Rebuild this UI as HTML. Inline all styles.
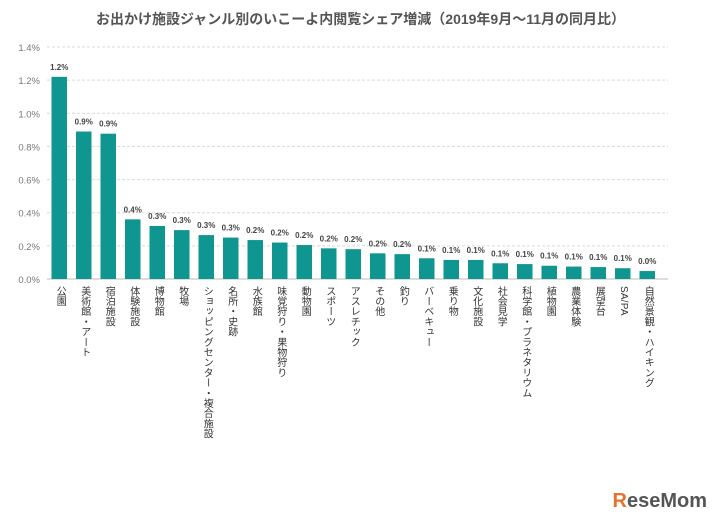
<!DOCTYPE html>
<html><head><meta charset="utf-8">
<style>
body{margin:0;background:#fff;font-family:"Liberation Sans","Noto Sans CJK JP",sans-serif;}
#wrap{position:relative;width:721px;height:523px;overflow:hidden;background:#fff;}
#title{position:absolute;top:9px;left:0;width:721px;text-align:center;font-size:14px;font-weight:bold;color:#555;}
.xl{position:absolute;top:286px;writing-mode:vertical-rl;font-size:10px;color:#333;line-height:12px;letter-spacing:0.2px;}
#logo{position:absolute;right:14px;bottom:10px;font-size:20px;font-weight:bold;color:#555;}
</style></head><body>
<div id="wrap">
<div id="title">お出かけ施設ジャンル別のいこーよ内閲覧シェア増減（2019年9月～11月の同月比）</div>
<svg id="svg" width="721" height="523" style="position:absolute;left:0;top:0"></svg>
<div id="labels"></div>
<div id="logo"><span style="color:#e6732a">R</span>eseMom</div>
</div>
<script>
const categories=["公園","美術館・アート","宿泊施設","体験施設","博物館","牧場","ショッピングセンター・複合施設","名所・史跡","水族館","味覚狩り・果物狩り","動物園","スポーツ","アスレチック","その他","釣り","バーベキュー","乗り物","文化施設","社会見学","科学館・プラネタリウム","植物園","農業体験","展望台","SA/PA","自然景観・ハイキング"];
const values=[1.22,0.89,0.877,0.36,0.32,0.295,0.265,0.25,0.235,0.22,0.205,0.185,0.18,0.155,0.15,0.125,0.115,0.115,0.095,0.09,0.08,0.075,0.072,0.065,0.048];
const valueLabels=["1.2%","0.9%","0.9%","0.4%","0.3%","0.3%","0.3%","0.3%","0.2%","0.2%","0.2%","0.2%","0.2%","0.2%","0.2%","0.1%","0.1%","0.1%","0.1%","0.1%","0.1%","0.1%","0.1%","0.1%","0.0%"];
const yTicks=[0,0.2,0.4,0.6,0.8,1.0,1.2,1.4];
const yTickLabels=["0.0%","0.2%","0.4%","0.6%","0.8%","1.0%","1.2%","1.4%"];
const NS="http://www.w3.org/2000/svg";
const svg=document.getElementById('svg');
const x0=47,step=24.5,bw=15.5,yBase=279,yTop=47,yMax=1.4;
const yScale=v=>yBase-(v/yMax)*(yBase-yTop);
const xCenter=i=>x0+step*(i+0.5);
function mk(t,a){const e=document.createElementNS(NS,t);for(const k in a)e.setAttribute(k,a[k]);svg.appendChild(e);return e;}
yTicks.forEach((v,i)=>{
 const l=mk('line',{x1:x0,x2:668,y1:yScale(v),y2:yScale(v),stroke:v===0?'#bbb':'#d9d9d9','stroke-dasharray':v===0?'':'3,2'});
 
 
 const t=mk('text',{x:40,y:yScale(v)+4,'text-anchor':'end','font-size':'9.5',fill:'#777'});
 t.textContent=yTickLabels[i];
 
 
});
const lab=document.getElementById('labels');
values.forEach((v,i)=>{
 const cx=xCenter(i);
 const r=mk('rect',{x:cx-bw/2,y:yScale(v),width:bw,height:yBase-yScale(v),fill:'#0f9690'});
 
 
 const t=mk('text',{x:cx,y:yScale(v)-7,'text-anchor':'middle','font-size':'8','font-weight':'bold',fill:'#444'});
 t.textContent=valueLabels[i];
 
 
 const d=document.createElement('div');
 d.className='xl';d.textContent=categories[i];
 d.style.left=(cx-6)+'px';
 
 
 lab.appendChild(d);
});
</script>
</body></html>
